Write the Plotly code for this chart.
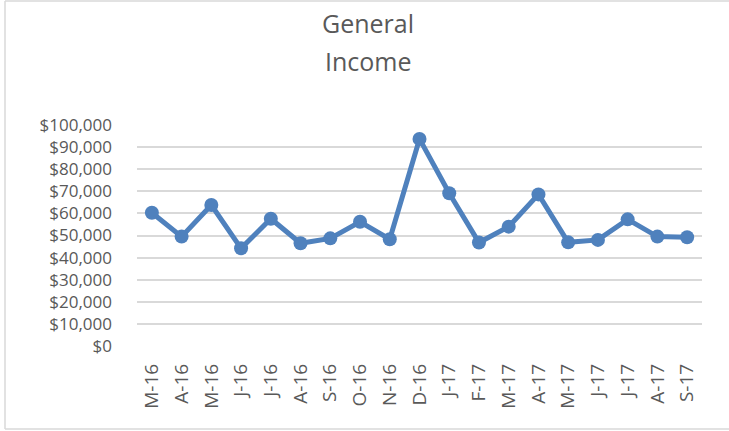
import plotly.graph_objects as go

months = ["M-16", "A-16", "M-16", "J-16", "J-16", "A-16", "S-16", "O-16", "N-16", "D-16",
          "J-17", "F-17", "M-17", "A-17", "M-17", "J-17", "J-17", "A-17", "S-17"]
income = [60300, 49500, 63800, 44200, 57600, 46500, 48700, 56200, 48300, 93700,
          69100, 46800, 54000, 68600, 46900, 48000, 57300, 49500, 49200]
y_ticks = list(range(0, 100001, 10000))
y_labels = ["${:,}".format(v) for v in y_ticks]

x_idx = list(range(len(months)))

fig = go.Figure()
fig.add_trace(go.Scatter(
    x=x_idx, y=income, mode="lines+markers",
    line=dict(color="#4F81BD", width=5),
    marker=dict(color="#4F81BD", size=14),
    hoverinfo="skip",
))

L, R, T, B = 137, 27, 125, 85
W, H = 729, 431
pw, ph = W - L - R, H - T - B


def px_x(v):
    return (v - L) / pw


def px_y(v):
    return (H - B - v) / ph


border = dict(color="#D9D9D9", width=1.5)
shapes = [
    dict(type="line", xref="paper", yref="paper", x0=px_x(5), x1=px_x(5),
         y0=px_y(1), y1=px_y(429), line=border, layer="below"),
    dict(type="line", xref="paper", yref="paper", x0=px_x(5), x1=px_x(729),
         y0=px_y(1), y1=px_y(1), line=border, layer="below"),
    dict(type="line", xref="paper", yref="paper", x0=px_x(5), x1=px_x(729),
         y0=px_y(429), y1=px_y(429), line=border, layer="below"),
]

fig.update_layout(
    width=W, height=H,
    margin=dict(l=L, r=R, t=T, b=B, pad=0),
    paper_bgcolor="white", plot_bgcolor="white",
    showlegend=False,
    font=dict(family="Open Sans", color="#595959"),
    xaxis=dict(
        range=[-0.5, len(months) - 0.5],
        tickmode="array", tickvals=x_idx, ticktext=months,
        tickangle=-90, tickfont=dict(size=19, color="#595959"),
        showgrid=False, zeroline=False, showline=False, ticks="",
        ticklabelstandoff=13, fixedrange=True,
    ),
    yaxis=dict(
        range=[0, 100000],
        tickmode="array", tickvals=y_ticks, ticktext=y_labels,
        tickfont=dict(size=17, color="#595959"),
        showgrid=True, gridcolor="#D9D9D9", gridwidth=1.5,
        zeroline=False, showline=False, ticks="",
        ticklabelstandoff=24, fixedrange=True,
    ),
    shapes=shapes,
    annotations=[
        dict(text="General", xref="paper", yref="paper",
             x=px_x(368), y=px_y(23), xanchor="center", yanchor="middle",
             showarrow=False, font=dict(size=25, color="#595959")),
        dict(text="Income", xref="paper", yref="paper",
             x=px_x(368), y=px_y(61), xanchor="center", yanchor="middle",
             showarrow=False, font=dict(size=25, color="#595959")),
    ],
)

fig.write_html("out.html", config={"displayModeBar": False},
               post_script="document.body.style.margin='0';")
